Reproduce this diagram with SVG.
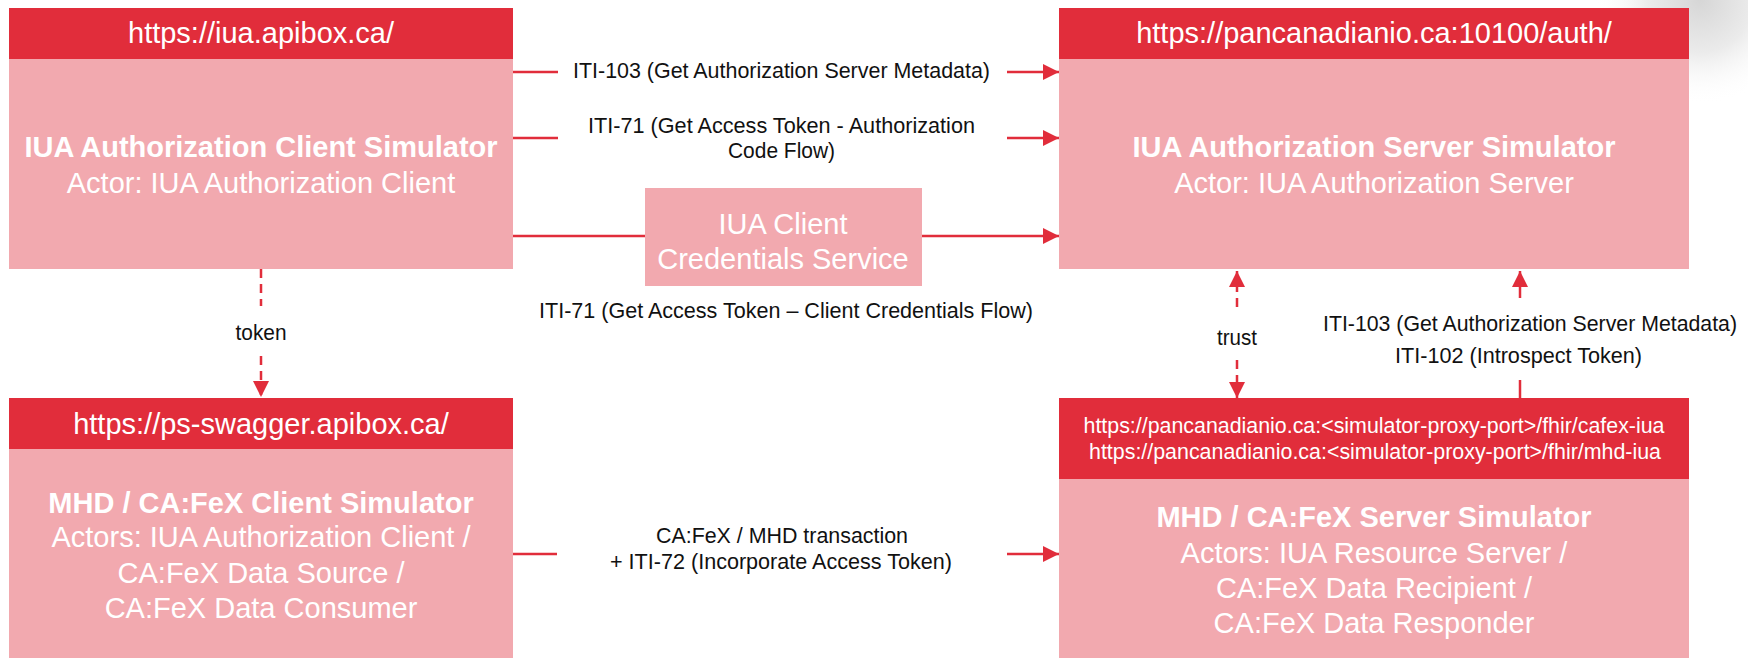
<svg xmlns="http://www.w3.org/2000/svg" width="1748" height="658" viewBox="0 0 1748 658">
  <defs>
    <style>
      text { font-family: "Liberation Sans", Arial, Helvetica, sans-serif; }
      .hdr { fill: #E12D3B; }
      .body { fill: #F2A9AF; }
      .url { fill: #ffffff; font-size: 29px; text-anchor: middle; }
      .url-sm { fill: #ffffff; font-size: 21.5px; text-anchor: middle; }
      .title { fill: #ffffff; font-size: 29px; font-weight: bold; text-anchor: middle; }
      .sub { fill: #ffffff; font-size: 29px; text-anchor: middle; }
      .lbl { fill: #111111; font-size: 22px; text-anchor: middle; }
      .edge { stroke: #E12D3B; stroke-width: 2.5; fill: none; }
      .dash { stroke-dasharray: 9 6; }
    </style>
    <marker id="arrow" markerUnits="userSpaceOnUse" markerWidth="16" markerHeight="16" refX="16" refY="8" orient="auto">
      <path d="M0,0 L16,8 L0,16 Z" fill="#E12D3B"/>
    </marker>
    <radialGradient id="cornerShade" cx="1700" cy="0" r="105" gradientUnits="userSpaceOnUse">
      <stop offset="0" stop-color="#d6d6d6"/>
      <stop offset="0.5" stop-color="#ebebeb"/>
      <stop offset="1" stop-color="#ffffff" stop-opacity="0"/>
    </radialGradient>
  </defs>

  <rect width="1748" height="658" fill="#ffffff"/>
  <!-- soft shade in the top-right corner -->
  <rect x="1590" y="0" width="158" height="110" fill="url(#cornerShade)"/>

  <!-- IUA Authorization Client Simulator -->
  <g id="node-auth-client">
    <rect class="hdr" x="9" y="8" width="504" height="51"/>
    <rect class="body" x="9" y="59" width="504" height="210"/>
    <text class="url" x="261" y="43">https://iua.apibox.ca/</text>
    <text class="title" x="261" y="157">IUA Authorization Client Simulator</text>
    <text class="sub" x="261" y="193">Actor: IUA Authorization Client</text>
  </g>

  <!-- IUA Authorization Server Simulator -->
  <g id="node-auth-server">
    <rect class="hdr" x="1059" y="8" width="630" height="51"/>
    <rect class="body" x="1059" y="59" width="630" height="210"/>
    <text class="url" x="1374" y="43">https://pancanadianio.ca:10100/auth/</text>
    <text class="title" x="1374" y="157">IUA Authorization Server Simulator</text>
    <text class="sub" x="1374" y="193">Actor: IUA Authorization Server</text>
  </g>

  <!-- IUA Client Credentials Service -->
  <g id="node-client-credentials">
    <rect class="body" x="645" y="188" width="277" height="98"/>
    <text class="sub" x="783" y="234">IUA Client</text>
    <text class="sub" x="783" y="269">Credentials Service</text>
  </g>

  <!-- MHD / CA:FeX Client Simulator -->
  <g id="node-mhd-client">
    <rect class="hdr" x="9" y="398" width="504" height="51"/>
    <rect class="body" x="9" y="449" width="504" height="209"/>
    <text class="url" x="261" y="434">https://ps-swagger.apibox.ca/</text>
    <text class="title" x="261" y="513">MHD / CA:FeX Client Simulator</text>
    <text class="sub" x="261" y="547">Actors: IUA Authorization Client /</text>
    <text class="sub" x="261" y="583">CA:FeX Data Source /</text>
    <text class="sub" x="261" y="618">CA:FeX Data Consumer</text>
  </g>

  <!-- MHD / CA:FeX Server Simulator -->
  <g id="node-mhd-server">
    <rect class="hdr" x="1059" y="398" width="630" height="81"/>
    <rect class="body" x="1059" y="479" width="630" height="179"/>
    <text class="url-sm" x="1374" y="433" textLength="581" lengthAdjust="spacingAndGlyphs">https://pancanadianio.ca:&lt;simulator-proxy-port&gt;/fhir/cafex-iua</text>
    <text class="url-sm" x="1375" y="459" textLength="572" lengthAdjust="spacingAndGlyphs">https://pancanadianio.ca:&lt;simulator-proxy-port&gt;/fhir/mhd-iua</text>
    <text class="title" x="1374" y="527">MHD / CA:FeX Server Simulator</text>
    <text class="sub" x="1374" y="563">Actors: IUA Resource Server /</text>
    <text class="sub" x="1374" y="598">CA:FeX Data Recipient /</text>
    <text class="sub" x="1374" y="633">CA:FeX Data Responder</text>
  </g>

  <!-- connectors -->
  <g id="connectors">
    <!-- ITI-103 metadata request -->
    <line class="edge" x1="513" y1="72" x2="558" y2="72"/>
    <line class="edge" x1="1007" y1="72" x2="1059" y2="72" marker-end="url(#arrow)"/>
    <text class="lbl" x="781.5" y="78" textLength="417" lengthAdjust="spacingAndGlyphs">ITI-103 (Get Authorization Server Metadata)</text>

    <!-- ITI-71 authorization code flow -->
    <line class="edge" x1="513" y1="138" x2="558" y2="138"/>
    <line class="edge" x1="1007" y1="138" x2="1059" y2="138" marker-end="url(#arrow)"/>
    <text class="lbl" x="781.5" y="133" textLength="387" lengthAdjust="spacingAndGlyphs">ITI-71 (Get Access Token - Authorization</text>
    <text class="lbl" x="781.5" y="158" textLength="107" lengthAdjust="spacingAndGlyphs">Code Flow)</text>

    <!-- ITI-71 client credentials flow via the service -->
    <line class="edge" x1="513" y1="236" x2="645" y2="236"/>
    <line class="edge" x1="922" y1="236" x2="1059" y2="236" marker-end="url(#arrow)"/>
    <text class="lbl" x="786" y="318" textLength="494" lengthAdjust="spacingAndGlyphs">ITI-71 (Get Access Token – Client Credentials Flow)</text>

    <!-- token hand-off -->
    <line class="edge dash" x1="261" y1="269" x2="261" y2="306"/>
    <line class="edge dash" x1="261" y1="356" x2="261" y2="397" marker-end="url(#arrow)"/>
    <text class="lbl" x="261" y="340" textLength="51" lengthAdjust="spacingAndGlyphs">token</text>

    <!-- trust between servers -->
    <line class="edge dash" x1="1237" y1="307" x2="1237" y2="271" marker-end="url(#arrow)"/>
    <line class="edge dash" x1="1237" y1="360" x2="1237" y2="398" marker-end="url(#arrow)"/>
    <text class="lbl" x="1237" y="345" textLength="40" lengthAdjust="spacingAndGlyphs">trust</text>

    <!-- ITI-103 / ITI-102 from resource server -->
    <line class="edge" x1="1520" y1="398" x2="1520" y2="380"/>
    <line class="edge" x1="1520" y1="298" x2="1520" y2="271" marker-end="url(#arrow)"/>
    <text class="lbl" x="1530" y="331" textLength="414" lengthAdjust="spacingAndGlyphs">ITI-103 (Get Authorization Server Metadata)</text>
    <text class="lbl" x="1518.5" y="363" textLength="247" lengthAdjust="spacingAndGlyphs">ITI-102 (Introspect Token)</text>

    <!-- CA:FeX / MHD transaction -->
    <line class="edge" x1="513" y1="554" x2="557" y2="554"/>
    <line class="edge" x1="1007" y1="554" x2="1059" y2="554" marker-end="url(#arrow)"/>
    <text class="lbl" x="782" y="543" textLength="252" lengthAdjust="spacingAndGlyphs">CA:FeX / MHD transaction</text>
    <text class="lbl" x="781" y="569" textLength="342" lengthAdjust="spacingAndGlyphs">+ ITI-72 (Incorporate Access Token)</text>
  </g>
</svg>
